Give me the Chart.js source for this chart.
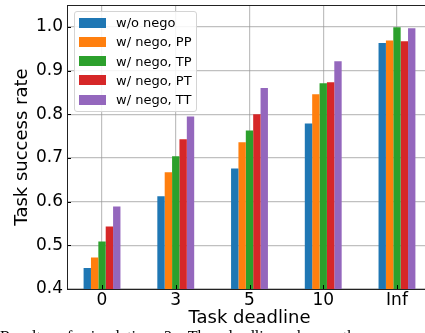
<!DOCTYPE html>
<html>
<head>
<meta charset="utf-8">
<script src="https://cdn.jsdelivr.net/npm/chart.js@4.4.1/dist/chart.umd.min.js"></script>
<style>
  html, body { margin: 0; padding: 0; background: #fff; }
  body { width: 425px; height: 333px; overflow: hidden; position: relative; }
  #wrap { position: absolute; left: 0; top: 0; width: 440px; height: 333px; }
  #legend {
    position: absolute; left: 74px; top: 11px; width: 121px; height: 98px;
    border: 1px solid #d4d4d4; border-radius: 3px; background: rgba(255,255,255,0.85);
    font-family: "DejaVu Sans", sans-serif; font-size: 13px; color: #000;
    padding-top: 1px; box-sizing: content-box;
  }
  #legend .row { height: 19.25px; display: flex; align-items: center; }
  #legend .sw { width: 27px; height: 10px; margin-left: 4px; margin-right: 10px; }
  #caption {
    position: absolute; left: 0; top: 328px; white-space: nowrap;
    font-family: "Liberation Serif", serif; font-size: 16px; word-spacing: 8px; color: #000;
  }
</style>
</head>
<body>
<div id="wrap"><canvas id="c" width="440" height="333"></canvas></div>
<div id="legend"></div>
<div id="caption">Results of simulation 3. The deadline shows the</div>
<script>
// data
const deadlines = ['0', '3', '5', '10', 'Inf'];
const yTicks = [0.4, 0.5, 0.6, 0.7, 0.8, 0.9, 1.0];

const seriesNames = ['w/o nego', 'w/ nego, PP', 'w/ nego, TP', 'w/ nego, PT', 'w/ nego, TT'];
const seriesColors = ['#1f77b4', '#ff7f0e', '#2ca02c', '#d62728', '#9467bd'];

const noNego = [0.448, 0.612, 0.676, 0.779, 0.963];
const negoPP = [0.472, 0.667, 0.736, 0.846, 0.969];
const negoTP = [0.509, 0.704, 0.763, 0.871, 0.999];
const negoPT = [0.543, 0.743, 0.800, 0.873, 0.967];
const negoTT = [0.589, 0.795, 0.860, 0.921, 0.997];

const seriesValues = [noNego, negoPP, negoTP, negoPT, negoTT];

const GRID = 'rgba(150,150,150,0.6)';
const FONT = '"DejaVu Sans", sans-serif';

// matplotlib-like frame with inward ticks
const framePlugin = {
  id: 'frame',
  afterDraw(chart) {
    const { ctx, chartArea: a, scales } = chart;
    ctx.save();
    ctx.strokeStyle = '#000';
    ctx.lineWidth = 1;
    ctx.beginPath();
    for (const t of scales.x.ticks) {
      const px = Math.round(scales.x.getPixelForValue(t.value)) + 0.5;
      ctx.moveTo(px, a.bottom); ctx.lineTo(px, a.bottom - 4);
    }
    for (const t of scales.y.ticks) {
      const py = Math.round(scales.y.getPixelForValue(t.value)) + 0.5;
      ctx.moveTo(a.left, py); ctx.lineTo(a.left + 4, py);
    }
    ctx.stroke();
    ctx.strokeStyle = '#222';
    ctx.strokeRect(Math.round(a.left) + 0.5, Math.round(a.top) + 0.5,
      Math.round(a.right - a.left), Math.round(a.bottom - a.top));
    ctx.restore();
  }
};

const datasets = seriesNames.map((name, k) => ({
  label: name,
  data: seriesValues[k].map((v, i) => ({ x: i, y: v })),
  backgroundColor: seriesColors[k],
  borderWidth: 0,
  categoryPercentage: 0.5,
  barPercentage: 1.0,
}));

new Chart(document.getElementById('c'), {
  type: 'bar',
  data: { datasets },
  plugins: [framePlugin],
  options: {
    responsive: false,
    animation: false,
    devicePixelRatio: 1,
    layout: { padding: { top: 5, right: 8, left: 0, bottom: 0 } },
    plugins: { legend: { display: false }, tooltip: { enabled: false } },
    scales: {
      x: {
        type: 'linear',
        min: -0.475, max: 4.475,
        offset: false,
        z: 1,
        afterBuildTicks: s => { s.ticks = deadlines.map((_, i) => ({ value: i })); },
        afterFit: s => { s.height = 44; s.paddingLeft = 0; s.paddingRight = 0; },
        grid: { color: GRID, lineWidth: 1.2, drawTicks: false, offset: false },
        border: { display: false },
        ticks: {
          color: '#000', padding: 1, maxRotation: 0,
          font: { family: FONT, size: 17 },
          callback: v => deadlines[v] ?? '',
        },
        title: {
          display: true, text: 'Task deadline', color: '#000',
          font: { family: FONT, size: 18 }, padding: { top: 0, bottom: 4 },
        },
      },
      y: {
        min: 0.4, max: 1.05,
        z: 1,
        afterBuildTicks: s => { s.ticks = yTicks.map(v => ({ value: v })); },
        afterFit: s => { s.width = 67; s.paddingTop = 0; s.paddingBottom = 0; },
        grid: { color: GRID, lineWidth: 1.2, drawTicks: false },
        border: { display: false },
        ticks: {
          color: '#000', padding: 4,
          font: { family: FONT, size: 17 },
          callback: v => Number(v).toFixed(1),
        },
        title: {
          display: true, text: 'Task success rate', color: '#000',
          font: { family: FONT, size: 18 }, padding: { top: 12, bottom: 0 },
        },
      },
    },
  },
});

// legend box in the upper left of the plot
const legend = document.getElementById('legend');
seriesNames.forEach((name, k) => {
  const row = document.createElement('div');
  row.className = 'row';
  const sw = document.createElement('span');
  sw.className = 'sw';
  sw.style.background = seriesColors[k];
  const label = document.createElement('span');
  label.textContent = name;
  row.appendChild(sw);
  row.appendChild(label);
  legend.appendChild(row);
});
</script>
</body>
</html>
